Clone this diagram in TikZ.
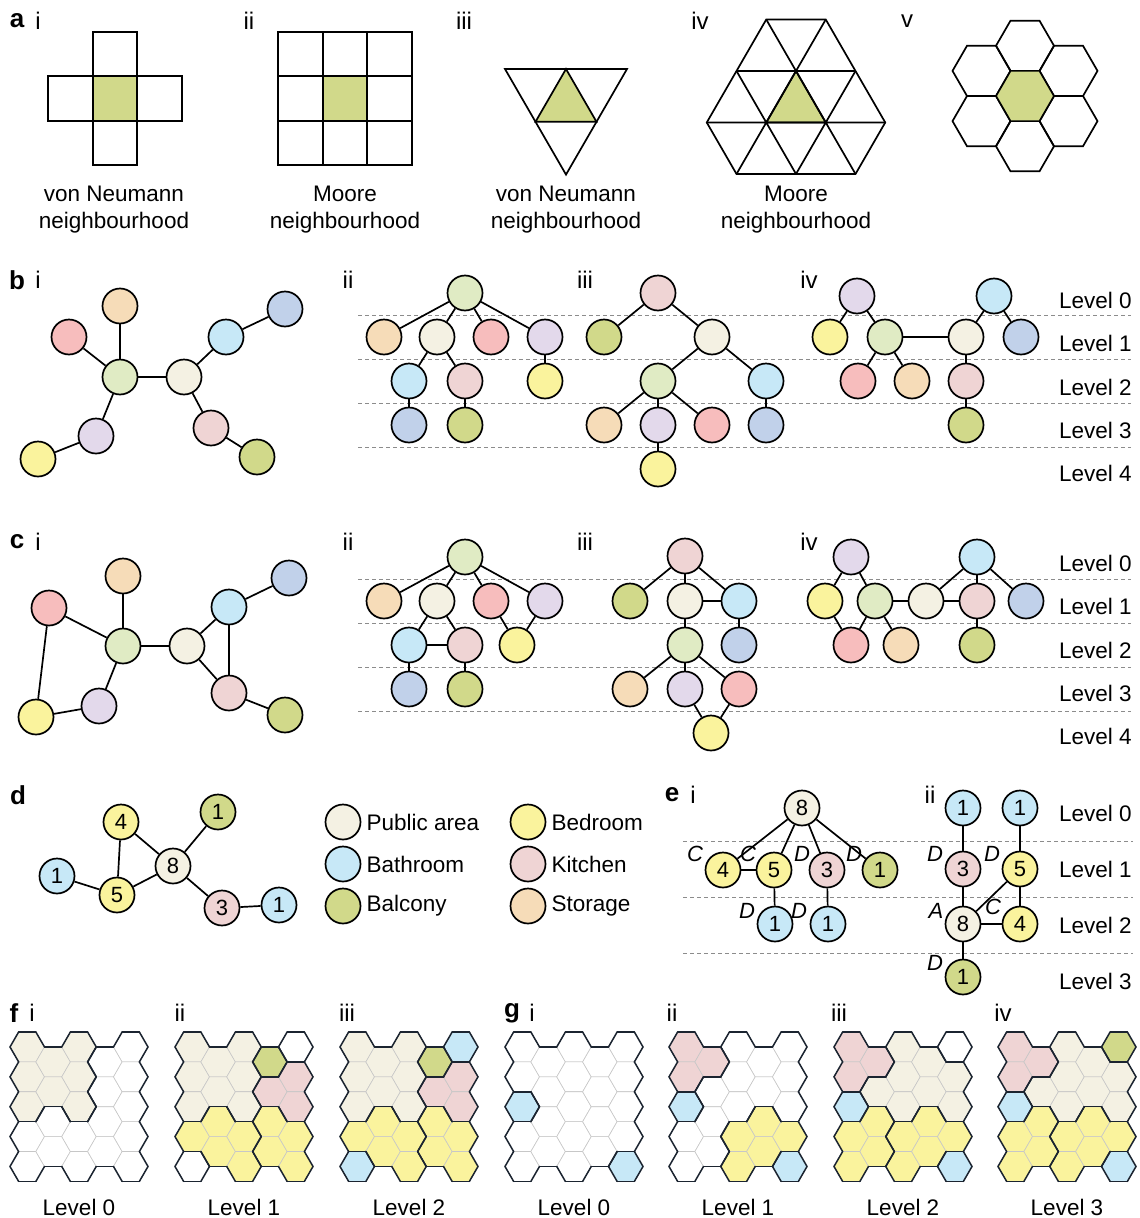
\documentclass[tikz,border=0pt]{standalone}
\usepackage{fontspec}
\setmainfont{Liberation Sans}
\usetikzlibrary{positioning,calc}

\definecolor{cPub}{HTML}{F4F1E3}
\definecolor{cBed}{HTML}{FAF39D}
\definecolor{cBath}{HTML}{C7E8F7}
\definecolor{cKit}{HTML}{EFD4D4}
\definecolor{cBal}{HTML}{D1D98A}
\definecolor{cSto}{HTML}{F6DCB8}
\definecolor{cRed}{HTML}{F7BDBD}
\definecolor{cLav}{HTML}{E3D9EB}
\definecolor{cGrn}{HTML}{E0EBC4}
\definecolor{cBlu}{HTML}{C1D1EA}
\definecolor{hexline}{HTML}{1B2430}
\colorlet{hexW}{white}
\colorlet{hexP}{cPub}
\colorlet{hexY}{cBed}
\colorlet{hexZ}{cBed}
\colorlet{hexB}{cBath}
\colorlet{hexK}{cKit}
\colorlet{hexG}{cBal}

\tikzset{
  room/.style={circle,draw,line width=1.7pt,fill=#1,minimum size=35pt,inner sep=0pt,font=\fontsize{22}{24}\selectfont},
  link/.style={line width=1.7pt},
  cell/.style={line width=1.7pt},
  lvline/.style={black!45,line width=0.9pt,dash pattern=on 4pt off 3pt},
  txt/.style={inner sep=0pt,font=\fontsize{22.5}{27}\selectfont,align=center},
  lvl/.style={inner sep=0pt,anchor=west,font=\fontsize{22.5}{24}\selectfont},
  panel/.style={inner sep=0pt,font=\fontsize{26}{28}\selectfont\bfseries},
  sub/.style={inner sep=0pt,font=\fontsize{24}{26}\selectfont},
  etag/.style={inner sep=0pt,font=\fontsize{22}{24}\selectfont\itshape},
  hexthin/.style={draw=black!22,line width=0.6pt},
  hexthick/.style={draw=hexline,line width=1.5pt,line cap=round},
}

% hexagon floor plans: one letter per cell, columns top to bottom
\newcommand\hexR{17.25}
\newcommand\hexH{29.88}
\newcommand\hexcells[2]{%
  \foreach \col [count=\hc from 0] in {#2} {%
    \foreach \cell [count=\hr from 0] in \col {%
      \expandafter\xdef\csname hx-#1-\hc-\hr\endcsname{\cell}%
    }%
  }%
}
\newcommand\hexmap[3]{%
  \foreach \hc in {0,...,4} {%
    \pgfmathtruncatemacro\rmax{4-mod(\hc,2)}%
    \foreach \hr in {0,...,\rmax} {%
      \edef\cur{\csname hx-#1-\hc-\hr\endcsname}%
      \pgfmathsetmacro\hx{#2+\hexR*(1+1.5*\hc)}%
      \pgfmathsetmacro\hy{#3+\hexH*(0.5+\hr+0.5*mod(\hc,2))}%
      \filldraw[hexthin,fill=hex\cur] (\hx,\hy) +(\hexR,0) -- +(0.5*\hexR,0.5*\hexH)
        -- +(-0.5*\hexR,0.5*\hexH) -- +(-\hexR,0) -- +(-0.5*\hexR,-0.5*\hexH)
        -- +(0.5*\hexR,-0.5*\hexH) -- cycle;%
    }%
  }%
  % dark border wherever the room changes
  \foreach \hc in {0,...,4} {%
    \pgfmathtruncatemacro\rmax{4-mod(\hc,2)}%
    \pgfmathtruncatemacro\odd{mod(\hc,2)}%
    \foreach \hr in {0,...,\rmax} {%
      \edef\cur{\csname hx-#1-\hc-\hr\endcsname}%
      \pgfmathsetmacro\hx{#2+\hexR*(1+1.5*\hc)}%
      \pgfmathsetmacro\hy{#3+\hexH*(0.5+\hr+0.5*mod(\hc,2))}%
      \foreach \dc/\re/\ro/\ax/\ay/\bx/\by in {0/-1/-1/-0.5/-0.5/0.5/-0.5, 0/1/1/0.5/0.5/-0.5/0.5,
          1/-1/0/0.5/-0.5/1/0, 1/0/1/1/0/0.5/0.5, -1/0/1/-0.5/0.5/-1/0, -1/-1/0/-1/0/-0.5/-0.5} {%
        \pgfmathtruncatemacro\nc{\hc+(\dc)}%
        \pgfmathtruncatemacro\nr{\hr+(\re)+\odd*((\ro)-(\re))}%
        \ifcsname hx-#1-\nc-\nr\endcsname
          \edef\nb{\csname hx-#1-\nc-\nr\endcsname}%
        \else
          \def\nb{X}%
        \fi
        \ifx\cur\nb\else
          \draw[hexthick] ({\hx+(\ax)*\hexR},{\hy+(\ay)*\hexH}) -- ({\hx+(\bx)*\hexR},{\hy+(\by)*\hexH});%
        \fi
      }%
    }%
  }%
}

\hexcells{fi}{{P,P,P,W,W},{P,P,W,W},{P,P,P,W,W},{W,W,W,W},{W,W,W,W,W}}
\hexcells{fii}{{P,P,P,Y,W},{P,P,Y,Y},{P,P,P,Y,Y},{G,K,Z,Z},{W,K,K,Z,Z}}
\hexcells{fiii}{{P,P,P,Y,B},{P,P,Y,Y},{P,P,P,Y,Y},{G,K,Z,Z},{B,K,K,Z,Z}}
\hexcells{gi}{{W,W,B,W,W},{W,W,W,W},{W,W,W,W,W},{W,W,W,W},{W,W,W,W,B}}
\hexcells{gii}{{K,K,B,W,W},{K,W,W,W},{W,W,W,Y,Y},{W,W,Y,Y},{W,W,W,Y,B}}
\hexcells{giii}{{K,K,B,Z,Z},{K,P,Z,Z},{P,P,P,Y,Y},{P,P,Y,Y},{W,P,P,Y,B}}
\hexcells{giv}{{K,K,B,Z,Z},{K,P,Z,Z},{P,P,P,Y,Y},{P,P,Y,Y},{G,P,P,Y,B}}

\begin{document}
\begin{tikzpicture}[x=1pt,y=-1pt]
\fill[white] (0,0) rectangle (1140,1218);
\useasboundingbox (0,0) rectangle (1140,1218);

%%% a: neighbourhoods
\node[panel] (la) at (17,21) {a};
\node[sub] at (38,21) {i};
\node[sub] at (249,21) {ii};
\node[sub] at (464,21) {iii};
\node[sub] at (700,21) {iv};
\node[sub] at (907,21) {v};

\foreach \dx/\dy in {0/-1,-1/0,1/0,0/1}
  \draw[cell] ({115+44.5*\dx-22.25},{98.5+44.5*\dy-22.25}) rectangle +(44.5,44.5);
\draw[cell,fill=cBal] (92.75,76.25) rectangle +(44.5,44.5);
\node[txt] at (114,210) {von Neumann\\neighbourhood};

\foreach \dx in {-1,0,1}
  \foreach \dy in {-1,0,1}
    \draw[cell] ({345+44.5*\dx-22.25},{98.5+44.5*\dy-22.25}) rectangle +(44.5,44.5);
\draw[cell,fill=cBal] (322.75,76.25) rectangle +(44.5,44.5);
\node[txt] at (345,210) {Moore\\neighbourhood};

\draw[cell,fill=cBal] (566,69) -- (535.5,121.8) -- (596.5,121.8) -- cycle;
\draw[cell] (505,69) -- (627,69) -- (566,174.6) -- cycle;
\node[txt] at (566,210) {von Neumann\\neighbourhood};

\draw[cell,fill=cBal] (796,71) -- (766.25,122.5) -- (825.75,122.5) -- cycle;
\draw[cell] (766.25,19.5) -- (825.75,19.5) -- (885.25,122.5) -- (855.5,174) -- (736.5,174) -- (706.75,122.5) -- cycle;
\draw[cell] (736.5,71) -- (855.5,71) (706.75,122.5) -- (885.25,122.5)
  (736.5,174) -- (825.75,19.5) (796,174) -- (855.5,71)
  (766.25,19.5) -- (855.5,174) (736.5,71) -- (796,174);
\node[txt] at (796,210) {Moore\\neighbourhood};

\foreach \dx/\dy in {0/-1,0/1,1.5/-0.5,1.5/0.5,-1.5/-0.5,-1.5/0.5}
  \draw[cell] ({1025+29*\dx},{96+50.23*\dy}) +(29,0) -- +(14.5,25.11) -- +(-14.5,25.11)
    -- +(-29,0) -- +(-14.5,-25.11) -- +(14.5,-25.11) -- cycle;
\draw[cell,fill=cBal] (1025,96) +(29,0) -- +(14.5,25.11) -- +(-14.5,25.11)
  -- +(-29,0) -- +(-14.5,-25.11) -- +(14.5,-25.11) -- cycle;

%%% b: trees without cycles
\node[panel] at (17,280) {b};
\node[sub] at (38,280) {i};
\node[sub] at (348,280) {ii};
\node[sub] at (585,280) {iii};
\node[sub] at (809,280) {iv};

\foreach \y in {315,359,403,447}
  \draw[lvline] (358,\y) -- (1131,\y);
\foreach \k/\y in {0/300,1/343,2/387,3/430,4/473}
  \node[lvl] at (1059,\y) {Level \k};

\node[room=cSto] (bi-sto) at (120,306) {};
\node[room=cRed] (bi-red) at (69,337) {};
\node[room=cGrn] (bi-grn) at (120,377) {};
\node[room=cPub] (bi-pub) at (184,377) {};
\node[room=cBath] (bi-bath) at (226,337) {};
\node[room=cBlu] (bi-blu) at (285,309) {};
\node[room=cLav] (bi-lav) at (96,436) {};
\node[room=cBed] (bi-bed) at (38,459) {};
\node[room=cKit] (bi-kit) at (211,428) {};
\node[room=cBal] (bi-bal) at (257,457) {};
\foreach \u/\v in {grn/sto,grn/red,grn/pub,grn/lav,lav/bed,pub/bath,bath/blu,pub/kit,kit/bal}
  \draw[link] (bi-\u) -- (bi-\v);

\node[room=cGrn] (bii-grn) at (465,293) {};
\node[room=cSto] (bii-sto) at (384,337) {};
\node[room=cPub] (bii-pub) at (437,337) {};
\node[room=cRed] (bii-red) at (491,337) {};
\node[room=cLav] (bii-lav) at (545,337) {};
\node[room=cBath] (bii-bath) at (409,381) {};
\node[room=cKit] (bii-kit) at (465,381) {};
\node[room=cBed] (bii-bed) at (545,381) {};
\node[room=cBlu] (bii-blu) at (409,425) {};
\node[room=cBal] (bii-bal) at (465,425) {};
\foreach \u/\v in {grn/sto,grn/pub,grn/red,grn/lav,pub/bath,pub/kit,lav/bed,bath/blu,kit/bal}
  \draw[link] (bii-\u) -- (bii-\v);

\node[room=cKit] (biii-kit) at (658,293) {};
\node[room=cBal] (biii-bal) at (604,337) {};
\node[room=cPub] (biii-pub) at (712,337) {};
\node[room=cGrn] (biii-grn) at (658,381) {};
\node[room=cBath] (biii-bath) at (766,381) {};
\node[room=cSto] (biii-sto) at (604,425) {};
\node[room=cLav] (biii-lav) at (658,425) {};
\node[room=cRed] (biii-red) at (712,425) {};
\node[room=cBlu] (biii-blu) at (766,425) {};
\node[room=cBed] (biii-bed) at (658,469) {};
\foreach \u/\v in {kit/bal,kit/pub,pub/grn,pub/bath,grn/sto,grn/lav,grn/red,bath/blu,lav/bed}
  \draw[link] (biii-\u) -- (biii-\v);

\node[room=cLav] (biv-lav) at (857,296) {};
\node[room=cBath] (biv-bath) at (994,296) {};
\node[room=cBed] (biv-bed) at (830,337) {};
\node[room=cGrn] (biv-grn) at (885,337) {};
\node[room=cPub] (biv-pub) at (966,337) {};
\node[room=cBlu] (biv-blu) at (1021,337) {};
\node[room=cRed] (biv-red) at (858,381) {};
\node[room=cSto] (biv-sto) at (912,381) {};
\node[room=cKit] (biv-kit) at (966,381) {};
\node[room=cBal] (biv-bal) at (966,425) {};
\foreach \u/\v in {lav/bed,lav/grn,bath/pub,bath/blu,grn/pub,grn/red,grn/sto,pub/kit,kit/bal}
  \draw[link] (biv-\u) -- (biv-\v);

%%% c: graphs with cycles
\node[panel] at (17,542) {c};
\node[sub] at (38,542) {i};
\node[sub] at (348,542) {ii};
\node[sub] at (585,542) {iii};
\node[sub] at (809,542) {iv};

\foreach \y in {579,623,667,711}
  \draw[lvline] (358,\y) -- (1131,\y);
\foreach \k/\y in {0/563,1/606,2/650,3/693,4/736}
  \node[lvl] at (1059,\y) {Level \k};

\node[room=cSto] (ci-sto) at (123,576) {};
\node[room=cRed] (ci-red) at (49,608) {};
\node[room=cGrn] (ci-grn) at (123,646) {};
\node[room=cPub] (ci-pub) at (187,646) {};
\node[room=cBath] (ci-bath) at (229,607) {};
\node[room=cBlu] (ci-blu) at (289,578) {};
\node[room=cLav] (ci-lav) at (99,706) {};
\node[room=cBed] (ci-bed) at (36,717) {};
\node[room=cKit] (ci-kit) at (229,693) {};
\node[room=cBal] (ci-bal) at (285,715) {};
\foreach \u/\v in {grn/sto,grn/red,red/bed,bed/lav,lav/grn,grn/pub,pub/bath,bath/blu,bath/kit,pub/kit,kit/bal}
  \draw[link] (ci-\u) -- (ci-\v);

\node[room=cGrn] (cii-grn) at (465,557) {};
\node[room=cSto] (cii-sto) at (384,601) {};
\node[room=cPub] (cii-pub) at (437,601) {};
\node[room=cRed] (cii-red) at (491,601) {};
\node[room=cLav] (cii-lav) at (545,601) {};
\node[room=cBath] (cii-bath) at (409,645) {};
\node[room=cKit] (cii-kit) at (465,645) {};
\node[room=cBed] (cii-bed) at (517,645) {};
\node[room=cBlu] (cii-blu) at (409,689) {};
\node[room=cBal] (cii-bal) at (465,689) {};
\foreach \u/\v in {grn/sto,grn/pub,grn/red,grn/lav,pub/bath,pub/kit,bath/kit,red/bed,lav/bed,bath/blu,kit/bal}
  \draw[link] (cii-\u) -- (cii-\v);

\node[room=cKit] (ciii-kit) at (685,556) {};
\node[room=cBal] (ciii-bal) at (630,601) {};
\node[room=cPub] (ciii-pub) at (685,601) {};
\node[room=cBath] (ciii-bath) at (739,601) {};
\node[room=cGrn] (ciii-grn) at (685,645) {};
\node[room=cBlu] (ciii-blu) at (739,645) {};
\node[room=cSto] (ciii-sto) at (630,689) {};
\node[room=cLav] (ciii-lav) at (685,689) {};
\node[room=cRed] (ciii-red) at (739,689) {};
\node[room=cBed] (ciii-bed) at (711,733) {};
\foreach \u/\v in {kit/bal,kit/pub,kit/bath,pub/bath,pub/grn,bath/blu,grn/sto,grn/lav,grn/red,lav/bed,red/bed}
  \draw[link] (ciii-\u) -- (ciii-\v);

\node[room=cLav] (civ-lav) at (851,557) {};
\node[room=cBath] (civ-bath) at (977,557) {};
\node[room=cBed] (civ-bed) at (825,601) {};
\node[room=cGrn] (civ-grn) at (875,601) {};
\node[room=cPub] (civ-pub) at (926,601) {};
\node[room=cKit] (civ-kit) at (977,601) {};
\node[room=cBlu] (civ-blu) at (1026,601) {};
\node[room=cRed] (civ-red) at (851,645) {};
\node[room=cSto] (civ-sto) at (901,645) {};
\node[room=cBal] (civ-bal) at (977,645) {};
\foreach \u/\v in {lav/bed,lav/grn,bath/pub,bath/kit,bath/blu,grn/pub,pub/kit,bed/red,grn/red,grn/sto,kit/bal}
  \draw[link] (civ-\u) -- (civ-\v);

%%% d: room graph with cell counts
\node[panel] at (18,795) {d};
\node[room=cBed] (d-four) at (121,822) {4};
\node[room=cBal] (d-bal) at (218,812) {1};
\node[room=cPub] (d-eight) at (173,866) {8};
\node[room=cBath] (d-bathL) at (57,876) {1};
\node[room=cBed] (d-five) at (117,895) {5};
\node[room=cKit] (d-three) at (222,908) {3};
\node[room=cBath] (d-bathR) at (279,905) {1};
\foreach \u/\v in {four/five,four/eight,five/eight,five/bathL,eight/bal,eight/three,three/bathR}
  \draw[link] (d-\u) -- (d-\v);

% legend
\node[room=cPub] (lg-pub) at (343,822) {};
\node[room=cBath] (lg-bath) at (343,864) {};
\node[room=cBal] (lg-bal) at (343,906) {};
\node[room=cBed] (lg-bed) at (528,822) {};
\node[room=cKit] (lg-kit) at (528,864) {};
\node[room=cSto] (lg-sto) at (528,906) {};
\node[lvl,right=5pt of lg-pub] {Public area};
\node[lvl,right=5pt of lg-bath] {Bathroom};
\node[lvl,right=5pt of lg-bal] {Balcony};
\node[lvl,right=5pt of lg-bed] {Bedroom};
\node[lvl,right=5pt of lg-kit] {Kitchen};
\node[lvl,right=5pt of lg-sto] {Storage};

%%% e: levelled room trees
\node[panel] at (672,795) {e};
\node[sub] at (693,795) {i};
\node[sub] at (930,795) {ii};
\foreach \y in {841,897,953}
  \draw[lvline] (683,\y) -- (1133,\y);
\foreach \k/\y in {0/813,1/869,2/925,3/981}
  \node[lvl] at (1059,\y) {Level \k};

\node[room=cPub] (ei-eight) at (802,808) {8};
\node[room=cBed] (ei-four) at (723,870) {4};
\node[room=cBed] (ei-five) at (774,870) {5};
\node[room=cKit] (ei-three) at (827,870) {3};
\node[room=cBal] (ei-bal) at (880,870) {1};
\node[room=cBath] (ei-bathA) at (775,924) {1};
\node[room=cBath] (ei-bathB) at (828,924) {1};
\foreach \u/\v in {eight/four,eight/five,eight/three,eight/bal,four/five,five/bathA,three/bathB}
  \draw[link] (ei-\u) -- (ei-\v);
\node[etag] at (695,854) {C};
\node[etag] at (748,854) {C};
\node[etag] at (802,854) {D};
\node[etag] at (854,854) {D};
\node[etag] at (747,911) {D};
\node[etag] at (799,911) {D};

\node[room=cBath] (eii-bathA) at (963,808) {1};
\node[room=cBath] (eii-bathB) at (1020,808) {1};
\node[room=cKit] (eii-three) at (963,869) {3};
\node[room=cBed] (eii-five) at (1020,869) {5};
\node[room=cPub] (eii-eight) at (963,924) {8};
\node[room=cBed] (eii-four) at (1020,924) {4};
\node[room=cBal] (eii-bal) at (963,977) {1};
\foreach \u/\v in {bathA/three,bathB/five,three/eight,five/eight,five/four,eight/four,eight/bal}
  \draw[link] (eii-\u) -- (eii-\v);
\node[etag] at (935,854) {D};
\node[etag] at (992,854) {D};
\node[etag] at (936,911) {A};
\node[etag] at (993,907) {C};
\node[etag] at (935,963) {D};

%%% f, g: hexagon plans
\node[panel] at (14,1013) {f};
\node[sub] at (32,1013) {i};
\node[sub] at (180,1013) {ii};
\node[sub] at (347,1013) {iii};
\node[panel] at (512,1013) {g};
\node[sub] at (532,1013) {i};
\node[sub] at (672,1013) {ii};
\node[sub] at (839,1013) {iii};
\node[sub] at (1003,1013) {iv};

\hexmap{fi}{10}{1032}
\hexmap{fii}{175}{1032}
\hexmap{fiii}{340}{1032}
\hexmap{gi}{505}{1032}
\hexmap{gii}{669}{1032}
\hexmap{giii}{834}{1032}
\hexmap{giv}{998}{1032}

\foreach \x/\k in {79/0,244/1,409/2,574/0,738/1,903/2,1067/3}
  \node[txt] at (\x,1207) {Level \k};

\end{tikzpicture}
\end{document}
